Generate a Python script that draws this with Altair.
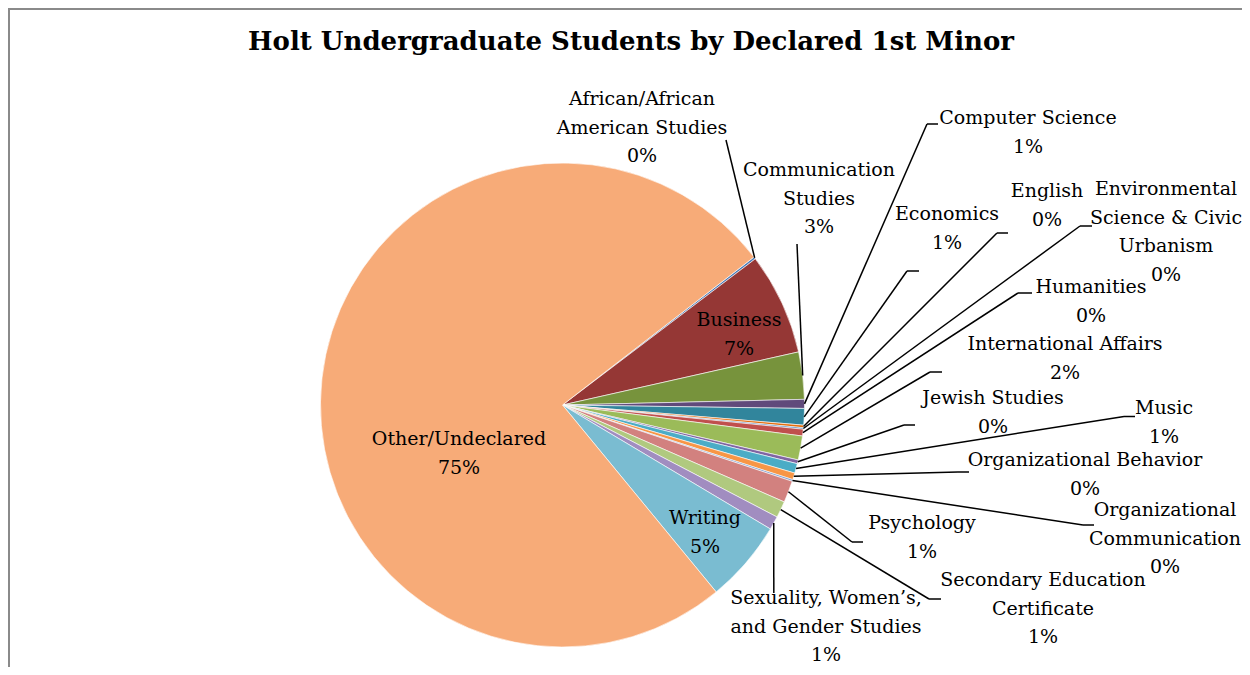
import math
import altair as alt
import pandas as pd

# ---------------- data ----------------
categories = [
    "African/African American Studies", "Business", "Communication Studies",
    "Computer Science", "Economics", "English",
    "Environmental Science & Civic Urbanism", "Humanities",
    "International Affairs", "Jewish Studies", "Music",
    "Organizational Behavior", "Organizational Communication", "Psychology",
    "Secondary Education Certificate",
    "Sexuality, Women’s, and Gender Studies", "Writing", "Other/Undeclared",
]
shares = [0.15, 6.8, 3.15, 0.6, 1.1, 0.17, 0.1, 0.45, 1.6, 0.25, 0.64,
          0.45, 0.12, 1.45, 1.1, 0.9, 5.49, 75.48]
label_text = [
    "African/African\nAmerican Studies", "Business", "Communication\nStudies",
    "Computer Science", "Economics", "English",
    "Environmental\nScience & Civic\nUrbanism", "Humanities",
    "International Affairs", "Jewish Studies", "Music",
    "Organizational Behavior", "Organizational\nCommunication", "Psychology",
    "Secondary Education\nCertificate",
    "Sexuality, Women’s,\nand Gender Studies", "Writing", "Other/Undeclared",
]
colors = ["#4A7DBA", "#953735", "#77933C", "#604A7B", "#31859C", "#E46C0A",
          "#4F81BD", "#C0504D", "#9BBB59", "#8064A2", "#4BACC6", "#F79646",
          "#7F9FD0", "#D2817F", "#B0C97F", "#A18DC0", "#7ABCD1", "#F7AB78"]
title_text = "Holt Undergraduate Students by Declared 1st Minor"

# ---------------- layout (page pixels) ----------------
M = 8
CX, CY, R = 562.5 - M, 405 - M, 242
START = math.radians(52.3)
label_x = [642, 739, 819, 1028, 947, 1047, 1166, 1091, 1065, 993, 1164,
           1085, 1165, 922, 1043, 826, 705, 459]
label_y = [99, 320, 170, 118, 214, 191, 189, 287, 344, 398, 408,
           460, 510, 523, 580, 598, 518, 439]
elbow_x = [726, None, 797, 927, 907, 997, 1080, 1018, 930, 904, 1124, 958,
           1083, 852, 929, 773.8, None, None]
elbow_y = [140, None, 244, 124, 271, 233, 226, 293, 372, 425, 416.5, 472,
           525, 542, 599, 593, None, None]
end_x = [None, None, None, 938, 919, 1008, 1092, 1032, 942, 915, 1135, 969,
         1094, 863, 941, None, None, None]
end_y = [None, None, None, 124, 271, 233, 226, 293, 372, 425, 416.5, 472,
         525, 542, 599, None, None, None]


def shift(v):
    return None if v is None else v - M


df = pd.DataFrame({
    "idx": list(range(len(categories))),
    "name": categories,
    "value": shares,
    "lab": label_text,
    "lx": [shift(v) for v in label_x],
    "ly": [shift(v) for v in label_y],
    "bx": [shift(v) for v in elbow_x],
    "by": [shift(v) for v in elbow_y],
    "qx": [shift(v) for v in end_x],
    "qy": [shift(v) for v in end_y],
})

W, H = 1250 - 2 * M, 675 - 2 * M
SERIF = "DejaVu Serif"

base = alt.Chart(df)

arcs = base.mark_arc(radius=R, stroke="#ffffff", strokeWidth=0.6).encode(
    theta=alt.Theta("value:Q", stack=True,
                    scale=alt.Scale(range=[START, START + 2 * math.pi])),
    order=alt.Order("idx:Q"),
    color=alt.Color("name:N", scale=alt.Scale(domain=categories, range=colors),
                    legend=None),
    x=alt.value(CX),
    y=alt.value(CY),
)

geo = (
    base.transform_joinaggregate(total="sum(value)")
    .transform_window(cum="sum(value)", sort=[alt.SortField("idx")],
                      frame=[None, 0])
    .transform_calculate(
        mid=f"{START} + 2*PI*(datum.cum - datum.value/2)/datum.total")
    .transform_calculate(
        ex=f"{CX} + {R}*sin(datum.mid)",
        ey=f"{CY} - {R}*cos(datum.mid)",
        txt="datum.lab + '\\n' + format(datum.value/datum.total, '.0%')",
    )
)

lead1 = geo.transform_filter("isValid(datum.bx)").mark_rule(
    color="#000000", strokeWidth=1.5).encode(
    x=alt.X("ex:Q", scale=None, axis=None),
    y=alt.Y("ey:Q", scale=None, axis=None),
    x2="bx:Q", y2="by:Q",
)
lead2 = geo.transform_filter("isValid(datum.qx)").mark_rule(
    color="#000000", strokeWidth=1.5).encode(
    x=alt.X("bx:Q", scale=None, axis=None),
    y=alt.Y("by:Q", scale=None, axis=None),
    x2="qx:Q", y2="qy:Q",
)
labels = geo.mark_text(font=SERIF, fontSize=19, color="#000000",
                       align="center", baseline="middle", lineBreak="\n",
                       lineHeight=28.7).encode(
    x=alt.X("lx:Q", scale=None, axis=None),
    y=alt.Y("ly:Q", scale=None, axis=None),
    text="txt:N",
)

one = pd.DataFrame({"t": [title_text]})
title = alt.Chart(one).mark_text(font=SERIF, fontSize=26, fontWeight="bold",
                                 color="#000000", align="center",
                                 baseline="middle").encode(
    x=alt.value(631 - M), y=alt.value(42 - M), text="t:N")
top_border = alt.Chart(one).mark_rule(color="#8a8a8a", strokeWidth=2).encode(
    x=alt.value(0), x2=alt.value(W), y=alt.value(1))
left_border = alt.Chart(one).mark_rule(color="#8a8a8a", strokeWidth=2).encode(
    x=alt.value(1), y=alt.value(0), y2=alt.value(H))

chart = alt.layer(top_border, left_border, title, arcs, lead1, lead2, labels).properties(
    width=W, height=H, autosize="none", padding=0,
).configure_view(stroke=None)

chart.save("out.html", embed_options={"renderer": "svg", "actions": False})
